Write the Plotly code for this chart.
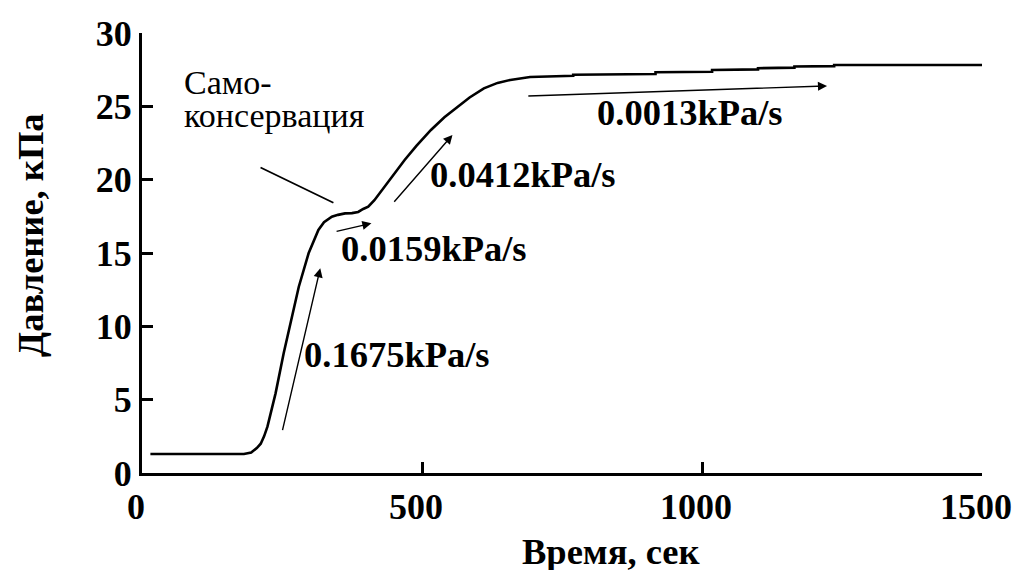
import plotly.graph_objects as go

# Data
time_s = [15, 182, 195, 205, 212, 218, 224, 231, 238.5, 253, 268, 280, 297.5, 307, 315, 325,
          339, 350, 362.5, 375, 386, 395, 404, 415, 433, 450, 469, 490, 516, 540, 563, 585,
          610.5, 635, 657.6, 693, 770, 770, 917, 917, 1018, 1018, 1100, 1100, 1165, 1165,
          1236, 1236, 1500]
pressure_kpa = [1.3, 1.3, 1.4, 1.7, 2.0, 2.5, 3.16, 4.2, 5.43, 8.16, 10.66, 12.7, 14.98, 15.9,
                16.57, 17.1, 17.48, 17.6, 17.7, 17.72, 17.8, 18.0, 18.16, 18.6, 19.52, 20.4,
                21.34, 22.3, 23.39, 24.25, 24.97, 25.6, 26.23, 26.6, 26.8, 27.0, 27.08, 27.15,
                27.2, 27.32, 27.36, 27.48, 27.52, 27.6, 27.64, 27.72, 27.74, 27.82, 27.82]

x_ticks = [0, 500, 1000, 1500]
y_ticks = [0, 5, 10, 15, 20, 25, 30]

rate_labels = ["0.1675kPa/s", "0.0159kPa/s", "0.0412kPa/s", "0.0013kPa/s"]
rate_arrow_tail = [(250.3, 2.82), (344.8, 16.45), (448.1, 18.39), (687.2, 25.70)]
rate_arrow_head = [(318.3, 13.96), (409.7, 17.02), (554.4, 23.05), (1223.3, 26.39)]
rate_label_pos = [(455.2, 8.05), (520.7, 15.34), (680.1, 20.32), (977.7, 24.61)]

self_preservation_lines = ["Само-", "консервация"]

FONT = "Liberation Serif, Times New Roman, DejaVu Serif, serif"

fig = go.Figure()
fig.add_trace(go.Scatter(x=time_s, y=pressure_kpa, mode="lines",
                         line=dict(color="black", width=2.6), showlegend=False,
                         hoverinfo="skip"))

annotations = []
for lab, tail, head, pos in zip(rate_labels, rate_arrow_tail, rate_arrow_head, rate_label_pos):
    annotations.append(dict(x=head[0], y=head[1], ax=tail[0], ay=tail[1],
                            xref="x", yref="y", axref="x", ayref="y",
                            text="", showarrow=True, arrowhead=2, arrowsize=1.3,
                            arrowwidth=1.4, arrowcolor="black"))
    annotations.append(dict(x=pos[0], y=pos[1], xref="x", yref="y", text=lab,
                            showarrow=False,
                            font=dict(family=FONT, size=36.5, color="black", weight="bold"),
                            xanchor="center", yanchor="middle"))

# leader line for self-preservation
annotations.append(dict(x=341.8, y=18.43, ax=209, ay=20.88, xref="x", yref="y",
                        axref="x", ayref="y", text="", showarrow=True, arrowhead=0,
                        arrowwidth=1.8, arrowcolor="black"))
annotations.append(dict(x=70.8, y=26.65, xref="x", yref="y", text=self_preservation_lines[0],
                        showarrow=False, xanchor="left", yanchor="middle",
                        font=dict(family=FONT, size=34, color="black")))
annotations.append(dict(x=70.8, y=24.4, xref="x", yref="y", text=self_preservation_lines[1],
                        showarrow=False, xanchor="left", yanchor="middle",
                        font=dict(family=FONT, size=34, color="black")))

pw, ph = 1024 - 142 - 35, 570 - 33 - 97
# axis titles (placed as paper annotations)
annotations.append(dict(x=(615 - 142) / pw, y=(473 - 551) / ph, xref="paper", yref="paper",
                        text="Время, сек", showarrow=False, xanchor="center", yanchor="middle",
                        font=dict(family=FONT, size=36.5, color="black", weight="bold")))
annotations.append(dict(x=(29 - 142) / pw, y=(473 - 235) / ph, xref="paper", yref="paper",
                        text="Давление, кПа", textangle=-90, showarrow=False,
                        xanchor="center", yanchor="middle",
                        font=dict(family=FONT, size=36.5, color="black", weight="bold")))

fig.update_layout(
    width=1024, height=570,
    margin=dict(l=142, r=35, t=33, b=97),
    paper_bgcolor="white", plot_bgcolor="white",
    font=dict(family=FONT, color="black"),
    annotations=annotations,
)

fig.update_xaxes(range=[0, 1500], tickvals=x_ticks, ticktext=[str(v) for v in x_ticks],
                 showline=True, linecolor="black", linewidth=3, showgrid=False, zeroline=False,
                 ticks="inside", ticklen=11, tickwidth=3, tickcolor="black",
                 ticklabelshift=-6,
                 tickfont=dict(family=FONT, size=36, color="black", weight="bold"))
fig.update_yaxes(range=[0, 30], tickvals=y_ticks, ticktext=[str(v) for v in y_ticks],
                 showline=True, linecolor="black", linewidth=3, showgrid=False, zeroline=False,
                 ticks="inside", ticklen=11, tickwidth=3, tickcolor="black",
                 tickfont=dict(family=FONT, size=36, color="black", weight="bold"))

fig.write_html("out.html")
